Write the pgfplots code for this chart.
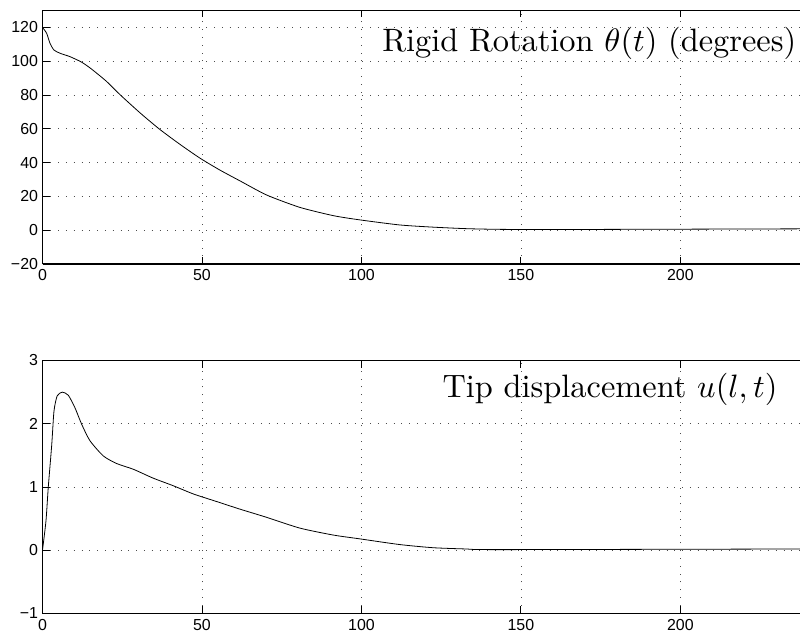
\documentclass[border=0pt]{standalone}
\usepackage{fontspec}
\usepackage{pgfplots}
\pgfplotsset{compat=1.18}
\newfontfamily\helv{Liberation Sans}

\pgfplotsset{
  matlab/.style={
    scale only axis,
    width=757.5bp,
    anchor=south west,
    xmin=0, xmax=237.5,
    axis x line*=box,
    axis y line*=left,
    axis line style={black, line width=1.1pt},
    tick align=inside,
    major tick length=7bp,
    tick style={black, line width=0.9pt},
    xtick={0,50,100,150,200},
    xticklabels={0,50,100,150,200},
    grid=major,
    major grid style={black!70, line width=0.7pt, dash pattern=on 0.8bp off 7bp},
    tick label style={font=\helv\fontsize{16}{16}\selectfont},
    /pgf/number format/assume math mode=true,
    xticklabel style={yshift=-2bp},
    yticklabel style={xshift=-1bp},
    clip=false,
  },
}
\tikzset{annot/.style={anchor=base east, font=\fontsize{10}{12}\selectfont,
    scale=3.25, transform shape, inner sep=0pt}}

\pgfplotstableread{
t theta
0 120
1.3 116.5
2.35 110.6
3.6 106.6
5.5 104.7
8.6 102.7
12.3 99.4
15.4 95.3
20.1 88
24.3 80.2
30.6 69.4
36.8 59.6
43.1 50.8
49.4 42.6
55.6 35.6
61.9 29.2
70.3 20.8
80.7 13.5
91.2 8.6
99.5 6.1
112 3.1
122.5 1.8
133 0.9
143.4 0.5
160 0.4
200 0.6
237.5 0.8
}\rotation

\pgfplotstableread{
t u
0 0
1.1 0.47
1.8 0.99
2.9 1.67
3.6 2.2
4.6 2.44
6.2 2.5
8.1 2.45
10.2 2.25
12.3 1.99
14.9 1.73
19.1 1.49
23.3 1.37
28.5 1.28
34.7 1.14
41 1.02
47.3 0.89
54.6 0.77
61.9 0.65
70.3 0.52
80.7 0.35
91.2 0.24
99.5 0.18
112 0.09
122.5 0.04
133 0.02
143.4 0.01
237.5 0.02
}\tip

\begin{document}
\begin{tikzpicture}
\useasboundingbox (0,0) rectangle (800bp,639bp);

\begin{axis}[matlab,
  at={(42.5bp,375bp)},
  height=253.5bp,
  ymin=-20, ymax=130,
  ytick={-20,0,20,40,60,80,100,120},
  yticklabels={−20,0,20,40,60,80,100,120},
]
\addplot[black, line width=0.8pt, smooth, tension=0.4] table[x=t, y=theta] {\rotation};
\node[annot] at (axis cs:236.5,105.5) {Rigid Rotation $\theta(t)$ (degrees)};
\end{axis}

\begin{axis}[matlab,
  at={(42.5bp,25.5bp)},
  height=253bp,
  ymin=-1, ymax=3,
  ytick={-1,0,1,2,3},
  yticklabels={−1,0,1,2,3},
]
\addplot[black, line width=0.8pt, smooth, tension=0.4] table[x=t, y=u] {\tip};
\node[annot] at (axis cs:230.6,2.42) {Tip displacement $u(l,t)$};
\end{axis}
\end{tikzpicture}
\end{document}
